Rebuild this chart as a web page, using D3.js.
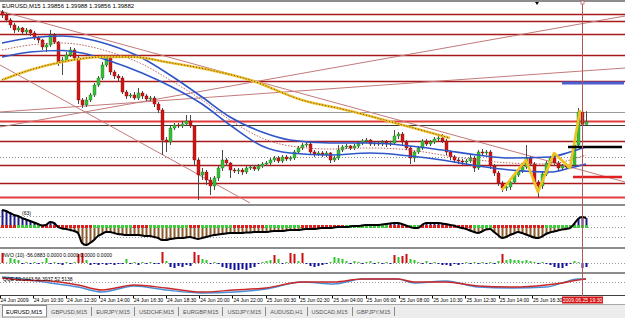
<!DOCTYPE html>
<html>
<head>
<meta charset="utf-8">
<script src="https://cdn.jsdelivr.net/npm/d3@7/dist/d3.min.js"></script>
<style>
  body { margin: 0; background: #fff; }
  svg { display: block; font-family: "Liberation Sans", Arial, sans-serif; }
</style>
</head>
<body>
<svg id="chart" width="625" height="318"></svg>
<script>
// EURUSD M15, 24-25 Jun 2009
const symbolTitle = "EURUSD,M15  1.39856 1.39988 1.39856 1.39882";
const firstOpen = 1.4098;
const closes = [
  1.4095,1.4090,1.4085,1.4080,1.4082,1.4078,1.4080,1.4077,1.4072,1.4070,
  1.4063,1.4065,1.4075,1.4068,1.4048,1.4050,1.4055,1.4060,1.4052,1.4010,
  1.4005,1.4010,1.4015,1.4025,1.4032,1.4045,1.4052,1.4038,1.4034,1.4032,
  1.4018,1.4014,1.4015,1.4012,1.4017,1.4014,1.4011,1.4012,1.4006,1.4000,
  1.3970,1.3968,1.3982,1.3985,1.3984,1.3986,1.3989,1.3984,1.3950,1.3935,
  1.3938,1.3930,1.3924,1.3932,1.3942,1.3950,1.3947,1.3940,1.3939,1.3940,
  1.3938,1.3942,1.3943,1.3941,1.3944,1.3946,1.3947,1.3950,1.3952,1.3949,
  1.3953,1.3951,1.3952,1.3958,1.3962,1.3965,1.3966,1.3958,1.3956,1.3957,
  1.3955,1.3957,1.3950,1.3952,1.3960,1.3963,1.3964,1.3962,1.3964,1.3967,
  1.3969,1.3970,1.3966,1.3967,1.3966,1.3968,1.3966,1.3967,1.3974,1.3976,
  1.3968,1.3962,1.3952,1.3958,1.3962,1.3969,1.3966,1.3968,1.3971,1.3972,
  1.3969,1.3958,1.3953,1.3950,1.3949,1.3948,1.3949,1.3952,1.3942,1.3958,
  1.3957,1.3958,1.3944,1.3937,1.3927,1.3922,1.3923,1.3928,1.3935,1.3939,
  1.3943,1.3952,1.3946,1.3928,1.3924,1.3936,1.3947,1.3952,1.3947,1.3942,
  1.3944,1.3943,1.3945,1.3965,1.3998,1.39856,1.39882
];
const highs = [
  1.4100,1.4097,1.4092,1.4087,1.4084,1.4083,1.4082,1.4081,1.4079,1.4074,
  1.4071,1.4067,1.4080,1.4077,1.4069,1.4053,1.4058,1.4063,1.4062,1.4054,
  1.4012,1.4013,1.4017,1.4027,1.4034,1.4048,1.4055,1.4054,1.4040,1.4036,
  1.4034,1.4020,1.4017,1.4018,1.4022,1.4019,1.4016,1.4014,1.4014,1.4008,
  1.4002,1.3973,1.3984,1.3987,1.3987,1.3989,1.3995,1.3995,1.3985,1.3952,
  1.3942,1.3940,1.3933,1.3934,1.3944,1.3960,1.3952,1.3948,1.3942,1.3942,
  1.3942,1.3944,1.3945,1.3945,1.3946,1.3948,1.3949,1.3952,1.3954,1.3954,
  1.3955,1.3955,1.3954,1.3960,1.3964,1.3967,1.3969,1.3967,1.3960,1.3959,
  1.3959,1.3959,1.3958,1.3954,1.3965,1.3965,1.3966,1.3965,1.3966,1.3969,
  1.3971,1.3972,1.3971,1.3969,1.3969,1.3970,1.3970,1.3969,1.3980,1.3978,
  1.3978,1.3970,1.3964,1.3960,1.3964,1.3971,1.3971,1.3970,1.3973,1.3975,
  1.3976,1.3971,1.3960,1.3955,1.3952,1.3951,1.3951,1.3955,1.3954,1.3960,
  1.3961,1.3960,1.3960,1.3946,1.3939,1.3929,1.3926,1.3930,1.3937,1.3941,
  1.3946,1.3965,1.3954,1.3948,1.3930,1.3938,1.3949,1.3954,1.3955,1.3949,
  1.3946,1.3946,1.3947,1.3967,1.4002,1.4000,1.39988
];
const lows = [
  1.4092,1.4088,1.4082,1.4077,1.4078,1.4075,1.4076,1.4074,1.4070,1.4067,
  1.4060,1.4058,1.4063,1.4066,1.4044,1.4035,1.4048,1.4053,1.4050,1.4006,
  1.4002,1.4003,1.4008,1.4013,1.4023,1.4030,1.4043,1.4035,1.4031,1.4028,
  1.4016,1.4011,1.4012,1.4010,1.4010,1.4011,1.4009,1.4009,1.4003,1.3997,
  1.3955,1.3958,1.3965,1.3980,1.3982,1.3982,1.3984,1.3982,1.3944,1.3910,
  1.3930,1.3925,1.3915,1.3920,1.3929,1.3939,1.3944,1.3932,1.3937,1.3936,
  1.3935,1.3936,1.3940,1.3939,1.3939,1.3942,1.3944,1.3945,1.3948,1.3947,
  1.3947,1.3949,1.3949,1.3950,1.3956,1.3960,1.3963,1.3955,1.3953,1.3954,
  1.3953,1.3953,1.3947,1.3948,1.3950,1.3958,1.3961,1.3960,1.3960,1.3962,
  1.3965,1.3967,1.3964,1.3964,1.3964,1.3964,1.3963,1.3964,1.3965,1.3971,
  1.3965,1.3960,1.3946,1.3948,1.3956,1.3960,1.3964,1.3964,1.3966,1.3969,
  1.3967,1.3955,1.3950,1.3947,1.3946,1.3945,1.3946,1.3947,1.3938,1.3940,
  1.3954,1.3955,1.3941,1.3934,1.3924,1.3918,1.3919,1.3920,1.3926,1.3933,
  1.3937,1.3941,1.3944,1.3925,1.3912,1.3921,1.3934,1.3945,1.3944,1.3939,
  1.3940,1.3941,1.3941,1.3943,1.3963,1.3984,1.39856
];

// envelope / moving averages, sampled at bar index
const maIdx = [0, 7, 15, 20, 27, 35, 42, 50, 57, 65, 72, 82, 92, 102, 110, 119, 127, 137, 142, 146];
const maUpper = [1.4067,1.4072,1.4074,1.4072,1.4065,1.4052,1.4035,1.4013,1.3993,1.3978,1.3970,1.3967,1.3967,1.3964,1.3960,1.3955,1.3952,1.3953,1.3958,1.3963];
const maLower = [1.4053,1.4058,1.40595,1.4057,1.4049,1.4037,1.4024,1.4006,1.3985,1.3964,1.3957,1.3955,1.3957,1.3954,1.3950,1.3944,1.3940,1.3938,1.3942,1.3946];
const maMid = [1.4060,1.4065,1.4067,1.4065,1.4058,1.4046,1.4030,1.4010,1.3990,1.3972,1.3964,1.3961,1.3962,1.3960,1.3955,1.3950,1.3947,1.3946,1.3950,1.3955];
const slowIdx = [0, 7, 15, 25, 33, 41, 52, 62, 75, 86, 102, 112];
const slowMa = [1.4030,1.4040,1.4048,1.4053,1.4053,1.4048,1.4040,1.4030,1.4010,1.4000,1.3983,1.3972];
const zigIdx = [125, 131, 134, 138, 142, 144.5];
const zigVals = [1.3920, 1.3950, 1.3918, 1.3957, 1.3942, 1.4000];

// drawn objects
const pivotLevels = [1.4096, 1.4089, 1.4076, 1.4055, 1.4029, 1.3969, 1.3945, 1.3927];
const strongLevels = [1.39895, 1.3913];
const greyLevel = 1.3998;
const bidLevel = 1.3985;
const dotLevel = 1.3953;
const trendLines = [
  [[-0.5, 1.3983], [155.75, 1.4094]],
  [[-0.5, 1.3998], [155.75, 1.4042]],
  [[-0.5, 1.4099], [155.75, 1.3928]],
  [[-0.5, 1.4045], [62, 1.3907]]
];
const targetBlue = [[140, 1.4027], [155.5, 1.4027]];
const targetBlack = [[141.5, 1.3963], [155, 1.3963]];
const targetRed = [[142.75, 1.3933], [155, 1.3933]];
const cursorBar = 145;
const shiftBar = 133.75;

// sub window 1 oscillator (63)
const osc = [
  17,16,14,12,11,9,7.5,6,4.5,3,
  1.5,2,5,4,0,-1.5,-2,-3,-4,-6,
  -16,-18,-16,-13,-9,-7,-5,-5,-6,-7,
  -7.5,-8,-8,-8,-8,-8.5,-9,-9,-10,-11,
  -13,-13,-12,-11.5,-11,-11,-10.5,-10,-11,-12,
  -11,-10,-9,-8,-7.5,-7,-6.5,-6,-6,-6,
  -6,-5.5,-5.5,-5,-5,-5,-5,-4.5,-4,-4,
  -4,-3.5,-3,-3,-3,-2.5,-2,-2,-2,-1.5,
  -1,-1,-1,-0.5,0,0,0,0.5,1,1,
  1.5,2,2,2,2,2.5,3,3.5,4,4,
  3,1.5,0,-1,-1,2,4,4,4,4,
  3.5,3,2,1.5,0,-1,-2,-3.5,-5,-6,
  -4.5,-2.5,-2,-5,-8,-11,-10,-8,-6.5,-5,
  -6,-7.5,-9,-10.5,-11,-9.5,-7,-5.5,-4.5,-3.5,
  -2.5,-2,-1,3,8,10,9
];
const oscSignalRuns = [["r",4],["g",6],["r",13],["g",10],["r",4],["g",10],["r",3],["g",8],["r",8],["g",9],
  ["r",11],["g",11],["r",5],["g",3],["r",13],["g",5],["r",13],["g",11]];
const oscLevels = [11, 0, -10];

// sub window 2 NVO (10)
const nvoLabel = "NVO (10) -56.0883 0.0000 0.0000 0.0000 0.0000";
const nvo = [
  10,0.5,5,4,3,-1,1,-1,1,-1,
  1,5,-1,1,-1,-2,1,-1,1,9,
  10,3,-2,-1,-2,-1,-2,-1,-2,-1,
  -1,4,-1,1,-2,1,-1,1,-1,-1,
  11,2,-4,-5,-3,-4,-2,-3,11,8,
  4,3,-1,1,-1,-4,-5,-6,-7,-7,
  -6,-7,-5,-4,-1,1,2,3,8,4,
  -1,1,10,9,2,10,-1,-3,-4,-3,
  -2,-1,1,6,5,4,2,-1,2,1,
  -1,1,2,-1,1,-1,1,-1,8,6,
  7,9,4,3,1,-1,2,-1,1,-1,
  -2,-2,-3,-1,-2,-1,1,-1,1,-1,
  1,-1,1,-1,2,9,3,4,3,3,
  2,3,2,1,-1,1,-1,-2,-4,-5,
  -5,-3,-1,2,1,-5,-4
];

// sub window 3 QQE
const qqeLabel = "QQE 59.0443 56.3937 52.5138";
const qqeIdx = [0, 5, 12, 19, 25, 33, 41, 50, 58, 66, 75, 83, 90, 99, 103, 111, 119, 128, 136, 140, 144, 146];
const qqeFast = [60.5,55.7,53.3,43.8,31.9,43.8,36.7,27.1,31.9,36.7,51.0,51.0,58.1,58.1,51.0,51.0,41.4,39.0,43.8,48.6,55.7,58.1];
const qqeSlow = [62.9,58.1,48.6,39.0,27.1,41.4,31.9,24.8,27.1,34.3,51.0,46.2,58.1,58.1,48.6,53.3,39.0,36.7,39.0,48.6,58.1,58.1];

const timeLabels = ["24 Jun 2009","24 Jun 10:30","24 Jun 12:30","24 Jun 14:00","24 Jun 16:30","24 Jun 18:30",
  "24 Jun 20:00","24 Jun 22:00","25 Jun 00:30","25 Jun 02:30","25 Jun 04:00","25 Jun 06:00","25 Jun 08:00",
  "25 Jun 10:30","25 Jun 12:30","25 Jun 14:00","25 Jun 16:30"];
const cursorLabel = "2009.06.25 19:30";
const tabLabels = ["EURUSD,M15","GBPUSD,M15","EURJPY,M15","USDCHF,M15","EURGBP,M15","USDJPY,M15","AUDUSD,H1","USDCAD,M15","GBPJPY,M15"];

// ---------------------------------------------------------------
const svg = d3.select("#chart");
const x = d3.scaleLinear().domain([0, 146]).range([2, 586]);
const yMain = d3.scaleLinear().domain([1.3907, 1.4110]).range([203, 0]);
const yOsc = d3.scaleLinear().domain([-20, 21]).range([247, 206]);
const yNvo = d3.scaleLinear().domain([-10, 13]).range([273, 250]);
const yQqe = d3.scaleLinear().domain([20, 70]).range([295, 274]);
const xTime = d3.scalePoint().domain(timeLabels).range([-0.5, 532]);

svg.append("rect").attr("width", 625).attr("height", 318).attr("fill", "#fff");

const defs = svg.append("defs");
function clip(id, y0, y1) {
  defs.append("clipPath").attr("id", id)
    .append("rect").attr("x", 0).attr("y", y0).attr("width", 625).attr("height", y1 - y0);
  return svg.append("g").attr("clip-path", `url(#${id})`);
}

const px = v => Math.round(v) + 0.5;

// ---------- main window ----------
const main = clip("clipMain", 2, 204);

function hline(g, price, color, width, dash) {
  g.append("line")
    .attr("x1", 0).attr("x2", 625)
    .attr("y1", px(yMain(price))).attr("y2", px(yMain(price)))
    .attr("stroke", color).attr("stroke-width", width)
    .attr("stroke-dasharray", dash || null);
}
pivotLevels.forEach(p => hline(main, p, "#a81818", 1.3));
strongLevels.forEach(p => hline(main, p, "#e23c3c", 2));
hline(main, greyLevel, "#9a9a9a", 1);
hline(main, bidLevel, "#3a3a3a", 1);
hline(main, dotLevel, "#8a8a8a", 1, "1,2");

const segLine = d3.line().x(d => x(d[0])).y(d => yMain(d[1]));
main.selectAll(".trend").data(trendLines).join("path")
  .attr("class", "trend")
  .attr("d", segLine)
  .attr("fill", "none").attr("stroke", "#c47a7a").attr("stroke-width", 1);

const bars = closes.map((c, i) => ({ i, o: i ? closes[i - 1] : firstOpen, h: highs[i], l: lows[i], c }));
const candle = main.append("g");
candle.selectAll("line").data(bars).join("line")
  .attr("x1", d => px(x(d.i))).attr("x2", d => px(x(d.i)))
  .attr("y1", d => yMain(d.h)).attr("y2", d => yMain(d.l))
  .attr("stroke", "#4a4a4a").attr("stroke-width", 1);
candle.selectAll("rect").data(bars).join("rect")
  .attr("x", d => Math.round(x(d.i)) - 1)
  .attr("width", 3)
  .attr("y", d => yMain(Math.max(d.o, d.c)))
  .attr("height", d => Math.max(1, yMain(Math.min(d.o, d.c)) - yMain(Math.max(d.o, d.c))))
  .attr("fill", d => d.c >= d.o ? "#35c035" : "#d01414")
  .attr("stroke", d => d.c >= d.o ? "#1e7a1e" : "#8a0a0a")
  .attr("stroke-width", 0.4);

const maLine = vals => d3.line().curve(d3.curveMonotoneX)
  .x((d, k) => x(d))
  .y((d, k) => yMain(vals[k]));
main.append("path").attr("d", maLine(maMid)(maIdx))
  .attr("fill", "none").attr("stroke", "#b86464").attr("stroke-width", 1).attr("stroke-dasharray", "1.5,1.5");
main.append("path").attr("d", maLine(maUpper)(maIdx))
  .attr("fill", "none").attr("stroke", "#2f55c8").attr("stroke-width", 1.6);
main.append("path").attr("d", maLine(maLower)(maIdx))
  .attr("fill", "none").attr("stroke", "#2f55c8").attr("stroke-width", 1.6);
main.append("path").attr("d", maLine(slowMa)(slowIdx))
  .attr("fill", "none").attr("stroke", "#f2c22e").attr("stroke-width", 2.6);
main.append("path").attr("d", maLine(slowMa)(slowIdx))
  .attr("fill", "none").attr("stroke", "#5a4620").attr("stroke-width", 1).attr("stroke-dasharray", "1,2");

main.append("path")
  .attr("d", d3.line().x(d => x(d)).y((d, k) => yMain(zigVals[k]))(zigIdx))
  .attr("fill", "none").attr("stroke", "#f0c020").attr("stroke-width", 2.6).attr("stroke-linejoin", "round");

[[targetBlue, "#4b5fd2", 3], [targetBlack, "#000", 2.5], [targetRed, "#e02020", 2.5]].forEach(([seg, col, w]) => {
  main.append("path").attr("d", segLine(seg)).attr("stroke", col).attr("stroke-width", w).attr("fill", "none");
});

svg.append("text").attr("x", 2).attr("y", 8)
  .attr("font-size", 6).attr("fill", "#000").text(symbolTitle);

// shift marker + cursor marker
const sx = x(shiftBar);
svg.append("path").attr("d", `M${sx - 2},2 L${sx + 2},2 L${sx},5 Z`).attr("fill", "#000");

// ---------- sub window 1 ----------
const w1 = clip("clipW1", 206, 247);
oscLevels.forEach(v => w1.append("line").attr("x1", 0).attr("x2", 625)
  .attr("y1", px(yOsc(v))).attr("y2", px(yOsc(v)))
  .attr("stroke", "#9a9a9a").attr("stroke-dasharray", "1,2"));
w1.selectAll(".hist").data(osc).join("rect").attr("class", "hist")
  .attr("x", (d, i) => Math.round(x(i)) - 0.5).attr("width", 2)
  .attr("y", d => Math.min(yOsc(d), yOsc(0)))
  .attr("height", d => Math.abs(yOsc(d) - yOsc(0)))
  .attr("fill", d => d >= 0 ? "#1c1c8a" : "#8b5a2b");
const signals = oscSignalRuns.flatMap(([c, n]) => d3.range(n).map(() => c));
w1.selectAll(".sig").data(signals).join("rect").attr("class", "sig")
  .attr("x", (d, i) => Math.round(x(i)) - 1).attr("width", 3)
  .attr("y", yOsc(0) - 2).attr("height", 3)
  .attr("fill", d => d === "r" ? "#dc2020" : "#3ccc3c");
w1.append("path")
  .attr("d", d3.line().curve(d3.curveMonotoneX).x((d, i) => x(i)).y(d => yOsc(d))(osc))
  .attr("fill", "none").attr("stroke", "#000").attr("stroke-width", 2);
svg.append("text").attr("x", 22).attr("y", 215).attr("font-size", 5).attr("fill", "#000").text("(63)");

// ---------- sub window 2 ----------
const w2 = clip("clipW2", 249, 272);
w2.append("line").attr("x1", 0).attr("x2", 625)
  .attr("y1", px(yNvo(0))).attr("y2", px(yNvo(0)))
  .attr("stroke", "#9a9a9a").attr("stroke-dasharray", "1,2");
w2.selectAll(".nvo").data(nvo).join("rect").attr("class", "nvo")
  .attr("x", (d, i) => Math.round(x(i)) - 0.5).attr("width", 2)
  .attr("y", d => Math.min(yNvo(d), yNvo(0)))
  .attr("height", d => Math.abs(yNvo(d) - yNvo(0)))
  .attr("fill", d => d >= 7 ? "#cc1010" : d > 0 ? "#2ec82e" : "#10109a");
svg.append("text").attr("x", 3).attr("y", 257).attr("font-size", 5).attr("fill", "#000").text(nvoLabel);

// ---------- sub window 3 ----------
const w3 = clip("clipW3", 274, 295);
w3.append("line").attr("x1", 0).attr("x2", 625)
  .attr("y1", px(yQqe(50))).attr("y2", px(yQqe(50)))
  .attr("stroke", "#9a9a9a").attr("stroke-dasharray", "1,2");
const qqeLine = vals => d3.line().curve(d3.curveMonotoneX).x(d => x(d)).y((d, k) => yQqe(vals[k]));
w3.append("path").attr("d", qqeLine(qqeSlow)(qqeIdx))
  .attr("fill", "none").attr("stroke", "#4a8fd8").attr("stroke-width", 1.4);
w3.append("path").attr("d", qqeLine(qqeFast)(qqeIdx))
  .attr("fill", "none").attr("stroke", "#c82828").attr("stroke-width", 1.4);
svg.append("text").attr("x", 3).attr("y", 281).attr("font-size", 5).attr("fill", "#000").text(qqeLabel);

// ---------- frames / separators ----------
[[0, 2], [204, 206], [247, 249], [272, 274]].forEach(([a, b]) =>
  svg.append("rect").attr("x", 0).attr("y", a).attr("width", 625).attr("height", b - a).attr("fill", "#8c8c8c"));
svg.append("line").attr("x1", 0).attr("x2", 625).attr("y1", 295.5).attr("y2", 295.5).attr("stroke", "#404040");

// cursor vertical line through all windows
const cx = px(x(cursorBar));
svg.append("line").attr("x1", cx).attr("x2", cx).attr("y1", 2).attr("y2", 296)
  .attr("stroke", "#b05858").attr("stroke-width", 1);
svg.append("rect").attr("x", cx - 1.5).attr("y", 1).attr("width", 3).attr("height", 3)
  .attr("fill", "#fff").attr("stroke", "#b05858").attr("stroke-width", 0.7);

// ---------- time axis ----------
const axis = svg.append("g");
axis.selectAll("line").data(timeLabels).join("line")
  .attr("x1", d => px(xTime(d))).attr("x2", d => px(xTime(d)))
  .attr("y1", 296).attr("y2", 298.5).attr("stroke", "#000");
axis.selectAll("text").data(timeLabels).join("text")
  .attr("x", d => xTime(d) + 1).attr("y", 302)
  .attr("font-size", 5.1).attr("fill", "#000").text(d => d);
axis.append("rect").attr("x", cx - 20.5).attr("y", 296.5).attr("width", 41).attr("height", 7)
  .attr("fill", "#d21414");
axis.append("text").attr("x", cx).attr("y", 302).attr("text-anchor", "middle")
  .attr("font-size", 5.1).attr("fill", "#fff").text(cursorLabel);

// ---------- symbol tabs ----------
svg.append("rect").attr("x", 0).attr("y", 304).attr("width", 625).attr("height", 14).attr("fill", "#ececec");
svg.append("line").attr("x1", 0).attr("x2", 625).attr("y1", 304.5).attr("y2", 304.5).attr("stroke", "#a8a8a8");
const tabs = svg.append("g");
let tx = 2;
tabLabels.forEach((label, k) => {
  const t = tabs.append("text").attr("y", 313.5).attr("font-size", 5.6)
    .attr("fill", k === 0 ? "#000" : "#555").text(label);
  const tw = t.node().getComputedTextLength();
  const w = tw + 8;
  if (k === 0) {
    tabs.insert("rect", "text").attr("x", tx + 0.5).attr("y", 305.5).attr("width", w).attr("height", 11.5)
      .attr("fill", "#fff").attr("stroke", "#8a8a8a").attr("stroke-width", 1);
  } else {
    tabs.append("line").attr("x1", px(tx + w)).attr("x2", px(tx + w)).attr("y1", 307).attr("y2", 316)
      .attr("stroke", "#8a8a8a");
  }
  t.attr("x", tx + 4);
  tx += w + 1;
});
</script>
</body>
</html>
